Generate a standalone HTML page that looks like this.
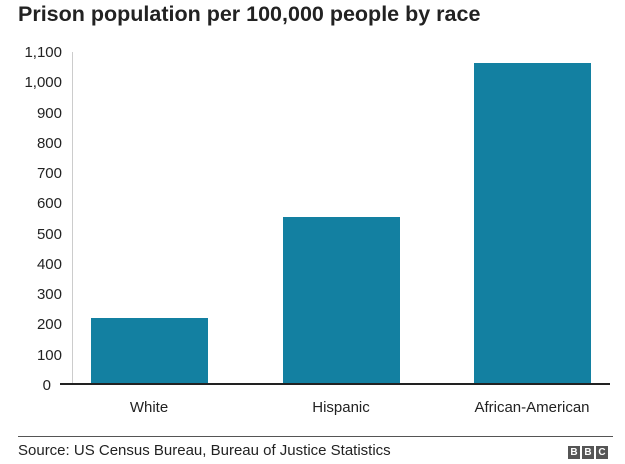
<!DOCTYPE html>
<html><head><style>
body{margin:0;width:625px;height:464px;background:#fff;font-family:"Liberation Sans",Arial,sans-serif;position:relative;overflow:hidden}
.t{position:absolute;left:18px;top:2px;font-size:21.5px;font-weight:bold;color:#222}
.yl{position:absolute;width:50px;left:12px;text-align:right;font-size:15px;color:#222}
.bar{position:absolute;background:#1380A1}
.xl{position:absolute;font-size:15px;color:#222;text-align:center;width:200px}
</style></head><body>
<div class="t">Prison population per 100,000 people by race</div>
<div style="position:absolute;left:72px;top:52px;width:1px;height:332px;background:#ccc"></div>
<div class="yl" style="top:44px">1,100</div>
<div class="yl" style="top:74px">1,000</div>
<div class="yl" style="top:105px">900</div>
<div class="yl" style="top:135px">800</div>
<div class="yl" style="top:165px">700</div>
<div class="yl" style="top:195px">600</div>
<div class="yl" style="top:226px">500</div>
<div class="yl" style="top:256px">400</div>
<div class="yl" style="top:286px">300</div>
<div class="yl" style="top:316px">200</div>
<div class="yl" style="top:347px">100</div>
<div class="yl" style="top:377px;left:1px">0</div>
<div class="bar" style="left:91px;width:117px;top:318px;height:66px"></div>
<div class="bar" style="left:283px;width:117px;top:217px;height:167px"></div>
<div class="bar" style="left:474px;width:117px;top:63px;height:321px"></div>
<div style="position:absolute;left:60px;top:383px;width:550px;height:2px;background:#222"></div>
<div class="xl" style="left:49px;top:399px">White</div>
<div class="xl" style="left:241px;top:399px">Hispanic</div>
<div class="xl" style="left:432px;top:399px">African-American</div>
<div style="position:absolute;left:18px;top:436px;width:595px;height:1px;background:#555"></div>
<div style="position:absolute;left:18px;top:442px;font-size:15px;color:#222">Source: US Census Bureau, Bureau of Justice Statistics</div>
<div style="position:absolute;left:568px;top:446px;display:flex;gap:2px">
<span style="width:12px;height:13px;background:#555;color:#fff;font-size:10px;font-weight:bold;text-align:center;line-height:13px">B</span>
<span style="width:12px;height:13px;background:#555;color:#fff;font-size:10px;font-weight:bold;text-align:center;line-height:13px">B</span>
<span style="width:12px;height:13px;background:#555;color:#fff;font-size:10px;font-weight:bold;text-align:center;line-height:13px">C</span>
</div>
</body></html>
